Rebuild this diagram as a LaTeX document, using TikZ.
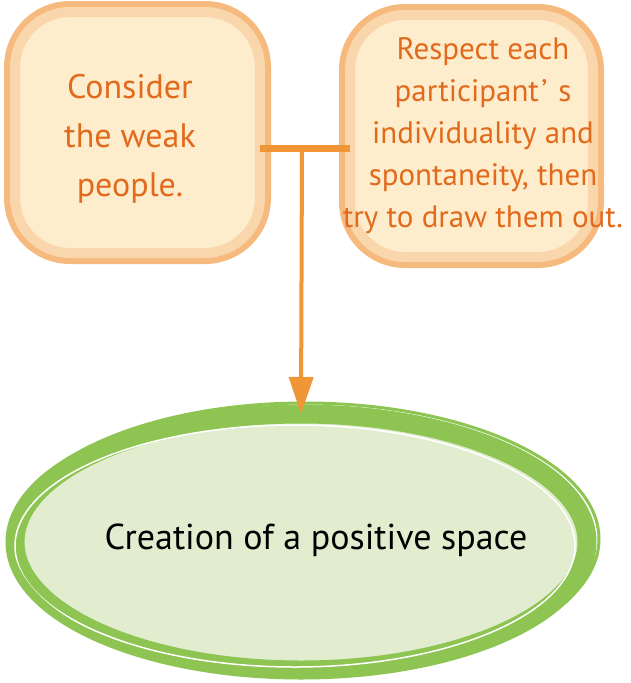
\documentclass[tikz,border=0pt]{standalone}
\usepackage{fontspec}
\setmainfont{PT Sans}
\usetikzlibrary{shapes.geometric, arrows.meta, positioning, calc}
\definecolor{cardfill}{RGB}{253,237,204}
\definecolor{cardedge}{RGB}{246,186,126}
\definecolor{cardhalo}{RGB}{250,214,172}
\definecolor{cardtext}{RGB}{226,106,28}
\definecolor{link}{RGB}{241,150,55}
\definecolor{leaf}{RGB}{141,196,82}
\definecolor{leaffill}{RGB}{225,237,206}

\begin{document}
\begin{tikzpicture}[
  x=1pt, y=-1pt,
  card/.style={rectangle, rounded corners=55pt, fill=cardfill, draw=cardhalo,
               line width=10pt, outer sep=0pt,
               preaction={draw=cardedge, line width=22pt}},
  txt/.style={text=cardtext, align=center},
  pool/.style={ellipse, fill=leaffill, draw=leaf, line width=19pt, outer sep=0pt,
               minimum width=572pt, minimum height=256pt},
  arr/.style={-{Triangle[length=37pt, width=24pt]}, line width=4pt, draw=link},
]
\fill[white] (0,0) rectangle (631,683);
\useasboundingbox (0,0) rectangle (631,683);

\node[card, minimum width=245pt, minimum height=241pt] (weak) at (137.5,132.5) {};
\node[txt, font=\fontsize{34}{49}\selectfont] (weakt) at (130,139)
  {Consider\\the weak\\people.};
\node[card, minimum width=243pt, minimum height=242pt] (resp) at (471.5,136) {};
\node[txt, font=\fontsize{31}{42}\selectfont] (respt) at (483,136)
  {Respect each\\participant\kern.08em'\kern.35em s\\individuality and\\spontaneity, then\\try to draw them out.};

\node[pool] (space) at (301,542) {};
\draw[white, line width=1.5pt] ($(space.center)+(-6,4)$) ellipse [x radius=280, y radius=121];
\draw[leaf, line width=3pt] ($(space.center)+(4,-3)$) ellipse [x radius=294, y radius=136];
\node[font=\fontsize{36}{40}\selectfont] (spacet) at (316,540) {Creation of a positive space};

\coordinate (join) at (302,148);
\draw[link, line width=7pt] (join -| weak.east) -- (join -| resp.west);
\draw[arr] (join) -- (space.north);
\end{tikzpicture}
\end{document}
